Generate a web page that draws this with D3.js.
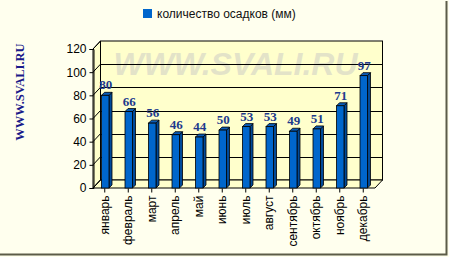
<!DOCTYPE html>
<html>
<head>
<meta charset="utf-8">
<script src="https://cdn.jsdelivr.net/npm/d3@7"></script>
<style>
  html, body { margin: 0; padding: 0; background: #FFFFEE; }
  svg { display: block; }
</style>
</head>
<body>
<svg id="chart" width="449" height="257"></svg>
<script>
const months = ['январь', 'февраль', 'март', 'апрель', 'май', 'июнь', 'июль', 'август', 'сентябрь', 'октябрь', 'ноябрь', 'декабрь'];
const rain = [80, 66, 56, 46, 44, 50, 53, 53, 49, 51, 71, 97];
const yTicks = [0, 20, 40, 60, 80, 100, 120];
const legendLabel = 'количество осадков (мм)';
const watermark = 'WWW.SVALI.RU';

const W = 449, H = 257;
const DX = 7.5, DY = 8;
const BAR_W = 7.5, BAR_D = 3;

const svg = d3.select('#chart');

const x = d3.scaleBand().domain(months).range([93, 375]);
const y = d3.scaleLinear().domain([0, 120]).range([188, 49]);

// frame border (right + bottom only)
svg.append('path')
  .attr('d', `M${W - 2.5},1V${H - 2.5}H0`)
  .attr('fill', 'none')
  .attr('stroke', '#5c5c48')
  .attr('stroke-width', 2);

// side watermark
svg.append('text')
  .attr('transform', `translate(24,${92}) rotate(-90)`)
  .attr('text-anchor', 'middle')
  .attr('font-family', 'Liberation Serif, serif')
  .attr('font-weight', 'bold')
  .attr('font-size', 12.5)
  .attr('fill', '#1a1a8a')
  .text(watermark);

// legend
svg.append('rect')
  .attr('x', 143).attr('y', 9)
  .attr('width', 9).attr('height', 9)
  .attr('fill', '#0066CC');
svg.append('text')
  .attr('x', 157).attr('y', 18)
  .attr('font-family', 'Liberation Sans, Arial, sans-serif')
  .attr('font-size', 12)
  .attr('fill', '#111')
  .text(legendLabel);

const [x0, x1] = x.range();
const [yb, yt] = y.range();

const walls = svg.append('g');
// back wall
walls.append('rect')
  .attr('x', x0 + DX).attr('y', yt - DY)
  .attr('width', x1 - x0).attr('height', yb - yt)
  .attr('fill', '#FFFFCC')
  .attr('stroke', '#000').attr('stroke-width', 1);
// left wall
walls.append('path')
  .attr('d', `M${x0},${yb}V${yt}L${x0 + DX},${yt - DY}V${yb - DY}Z`)
  .attr('fill', '#FFFFCC')
  .attr('stroke', '#000').attr('stroke-width', 1);
// floor
walls.append('path')
  .attr('d', `M${x0},${yb}H${x1}L${x1 + DX},${yb - DY}H${x0 + DX}Z`)
  .attr('fill', '#FFFFCC')
  .attr('stroke', '#000').attr('stroke-width', 1);

// big watermark in plot
svg.append('text')
  .attr('x', (x0 + x1) / 2 + DX - 6).attr('y', 75)
  .attr('text-anchor', 'middle')
  .attr('font-family', 'Liberation Sans, Arial, sans-serif')
  .attr('font-style', 'italic')
  .attr('font-weight', 'bold')
  .attr('font-size', 32)
  .attr('fill', '#dcdcc8')
  .attr('fill-opacity', 0.8)
  .text(watermark);

// gridlines on back wall + diagonals on left wall
const grid = svg.append('g').attr('stroke', '#000').attr('stroke-width', 1);
grid.selectAll('line.g')
  .data(yTicks.filter(d => d > 0 && d < 120))
  .join('line')
  .attr('x1', x0 + DX).attr('x2', x1 + DX)
  .attr('y1', d => Math.round(y(d) - DY) + 0.5)
  .attr('y2', d => Math.round(y(d) - DY) + 0.5);
grid.selectAll('line.d')
  .data(yTicks)
  .join('line')
  .attr('x1', x0).attr('x2', x0 + DX)
  .attr('y1', d => y(d)).attr('y2', d => y(d) - DY);

// y axis
const yAxis = d3.axisLeft(y).tickValues(yTicks).tickSize(4).tickPadding(3);
const yG = svg.append('g')
  .attr('transform', `translate(${x0 + 0.5},0)`)
  .call(yAxis);
yG.select('.domain').attr('stroke', '#000');
yG.selectAll('text')
  .attr('font-family', 'Liberation Sans, Arial, sans-serif')
  .attr('font-size', 12)
  .attr('fill', '#000');

// bars
const bars = svg.append('g').selectAll('g')
  .data(months.map((m, i) => ({ m, v: rain[i] })))
  .join('g');
const bx = d => x(d.m) + x.bandwidth() / 2 - BAR_W / 2 + 0.5;
bars.append('path')
  .attr('d', d => {
    const l = bx(d) + BAR_W, t = y(d.v);
    return `M${l},${yb}V${t}L${l + BAR_D},${t - BAR_D}V${yb - BAR_D}Z`;
  })
  .attr('fill', '#004a99').attr('stroke', '#000').attr('stroke-width', 0.8);
bars.append('path')
  .attr('d', d => {
    const l = bx(d), t = y(d.v);
    return `M${l},${t}L${l + BAR_D},${t - BAR_D}H${l + BAR_W + BAR_D}L${l + BAR_W},${t}Z`;
  })
  .attr('fill', '#0a5cb8').attr('stroke', '#000').attr('stroke-width', 0.8);
bars.append('rect')
  .attr('x', bx)
  .attr('y', d => y(d.v))
  .attr('width', BAR_W)
  .attr('height', d => yb - y(d.v))
  .attr('fill', '#0066CC').attr('stroke', '#000').attr('stroke-width', 0.8);

// value labels
bars.append('text')
  .attr('x', d => x(d.m) + x.bandwidth() / 2 + 1)
  .attr('y', d => y(d.v) - 6)
  .attr('text-anchor', 'middle')
  .attr('font-family', 'Liberation Serif, serif')
  .attr('font-weight', 'bold')
  .attr('font-size', 13)
  .attr('fill', '#203a8c')
  .text(d => d.v);

// x axis
const xAxis = d3.axisBottom(x).tickSize(4).tickPadding(3);
const xG = svg.append('g')
  .attr('transform', `translate(0,${yb + 0.5})`)
  .call(xAxis);
xG.select('.domain').remove();
xG.selectAll('text')
  .attr('font-family', 'Liberation Sans, Arial, sans-serif')
  .attr('font-size', 12)
  .attr('fill', '#000')
  .attr('text-anchor', 'end')
  .attr('dy', '0.35em')
  .attr('transform', 'translate(0,4) rotate(-90)')
  .attr('x', -3).attr('y', 0);
</script>
</body>
</html>
